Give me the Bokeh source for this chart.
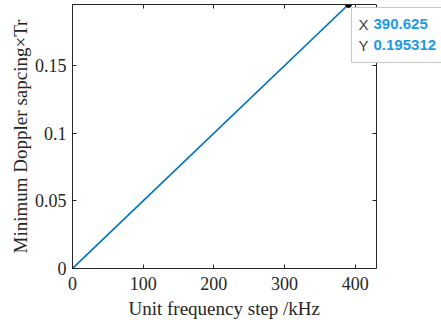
from bokeh.plotting import figure
from bokeh.models import LinearAxis, Range1d, Label, FixedTicker, Title, BoxAnnotation
from bokeh.embed import file_html
from bokeh.resources import INLINE

# data
freq_step_khz = [0, 390.625]
doppler_spacing = [0, 0.195312]
tip_x = 390.625
tip_y = 0.195312
x_ticks = [0, 100, 200, 300, 400]
y_ticks = [0, 0.05, 0.1, 0.15]
x_max = 430
y_max = 0.1953

SERIF = "Liberation Serif"
SANS = "Liberation Sans"
AX = "#262626"

# frame runs to the window edge so the data tip is not clipped;
# the visible box ends at x_max via axis bounds
frame_w = 368
x_end = x_max * frame_w / 303.0
sx = 303.0 / x_max      # px per x unit
sy = 264.0 / y_max      # px per y unit

p = figure(width=441, height=327, output_backend="svg", toolbar_location=None,
           x_range=Range1d(0, x_end), y_range=Range1d(0, y_max),
           min_border_left=72, min_border_right=0, min_border_top=4, min_border_bottom=59)
p.background_fill_color = "white"
p.border_fill_color = "white"
p.outline_line_color = None
p.grid.visible = False

p.line(freq_step_khz, doppler_spacing, line_color="#0072BD", line_width=1.6)
p.scatter([tip_x], [tip_y], size=6, fill_color="black", line_color="black")

def style(ax):
    ax.axis_line_color = AX
    ax.major_tick_line_color = AX
    ax.major_tick_in = 4
    ax.major_tick_out = 0
    ax.minor_tick_line_color = None
    ax.major_label_text_font = SERIF
    ax.major_label_text_font_size = "18px"
    ax.major_label_text_color = AX
    ax.axis_label_text_font = SERIF
    ax.axis_label_text_font_size = "19px"
    ax.axis_label_text_font_style = "normal"
    ax.axis_label_text_color = AX

xa = p.xaxis[0]
xa.ticker = FixedTicker(ticks=x_ticks)
xa.bounds = (0, x_max)
style(xa)
xa.major_label_standoff = 8

# x-axis title, placed under the visible box (not the extended frame)
p.add_layout(Title(text="Unit frequency step /kHz", align="left", offset=56,
                   text_font=SERIF, text_font_size="19px", text_font_style="normal",
                   text_color=AX, standoff=7), "below")

ya = p.yaxis[0]
ya.ticker = FixedTicker(ticks=y_ticks)
ya.axis_label = "Minimum Doppler sapcing×Tr"
style(ya)
ya.major_label_standoff = 6
ya.axis_label_standoff = 1
ya.major_label_overrides = {0: "0", 0.05: "0.05", 0.1: "0.1", 0.15: "0.15"}

top = LinearAxis(ticker=FixedTicker(ticks=x_ticks), bounds=(0, x_max))
style(top)
top.major_label_overrides = {t: "" for t in x_ticks}
top.major_label_standoff = 0
p.add_layout(top, "above")

right = LinearAxis(ticker=FixedTicker(ticks=y_ticks), fixed_location=x_max)
style(right)
right.major_label_overrides = {t: "" for t in y_ticks}
right.major_label_standoff = 0
p.add_layout(right, "right")

# data tip box
p.add_layout(BoxAnnotation(left=tip_x + 3 / sx, right=x_end * 1.1,
                           top=tip_y - 3 / sy, bottom=tip_y - 58 / sy,
                           fill_color="white", fill_alpha=1.0,
                           line_color="#c8c8c8", line_width=1, line_alpha=1.0))
for lab, val, dy in [("X", f"{tip_x}", -20), ("Y", f"{tip_y}", -41)]:
    p.add_layout(Label(x=tip_x, y=tip_y, x_offset=10, y_offset=dy, text=lab,
                       text_baseline="middle",
                       text_font=SANS, text_font_size="15px", text_color="#404040"))
    p.add_layout(Label(x=tip_x, y=tip_y, x_offset=25, y_offset=dy, text=val,
                       text_baseline="middle",
                       text_font=SANS, text_font_size="15px", text_font_style="bold",
                       text_color="#1A9BE8"))

open("out.html", "w").write(file_html(p, INLINE))
